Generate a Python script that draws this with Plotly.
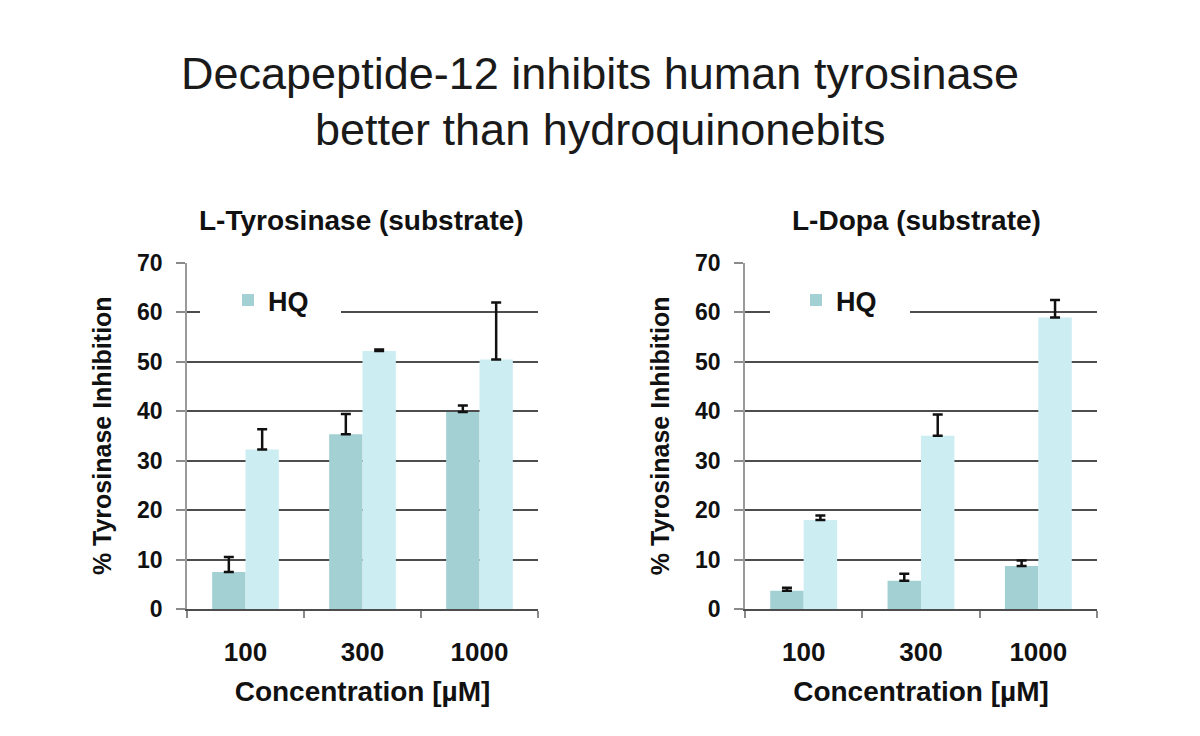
import plotly.graph_objects as go

categories = ["100", "300", "1000"]

# L-Tyrosinase (substrate)
tyr_hq = [7.5, 35.3, 39.8]
tyr_hq_err = [3.0, 4.1, 1.3]
tyr_deca = [32.2, 52.1, 50.4]
tyr_deca_err = [4.1, 0.3, 11.5]

# L-Dopa (substrate)
dopa_hq = [3.7, 5.7, 8.7]
dopa_hq_err = [0.6, 1.4, 1.1]
dopa_deca = [18.0, 35.0, 58.9]
dopa_deca_err = [0.9, 4.3, 3.5]

HQ_COLOR = "#A3D0D3"
DECA_COLOR = "#CCEEF2"
FONT = "Liberation Sans, Arial, sans-serif"
W, H = 1200, 736


def px_y(y):
    return 1 - y / H


fig = go.Figure()


def add_pair(hq, hq_err, deca, deca_err, xa, ya, legend):
    fig.add_trace(go.Bar(
        x=categories, y=hq, name="HQ", marker=dict(color=HQ_COLOR, line=dict(width=0)),
        error_y=dict(type="data", array=hq_err, arrayminus=[0] * len(hq_err), symmetric=False,
                     color="#111", thickness=2.5, width=5),
        xaxis=xa, yaxis=ya, legend=legend, showlegend=True))
    fig.add_trace(go.Bar(
        x=categories, y=deca, name="Decapeptide-12", marker=dict(color=DECA_COLOR, line=dict(width=0)),
        error_y=dict(type="data", array=deca_err, arrayminus=[0] * len(deca_err), symmetric=False,
                     color="#111", thickness=2.5, width=5),
        xaxis=xa, yaxis=ya, showlegend=False))


add_pair(tyr_hq, tyr_hq_err, tyr_deca, tyr_deca_err, "x", "y", "legend")
add_pair(dopa_hq, dopa_hq_err, dopa_deca, dopa_deca_err, "x2", "y2", "legend2")

ydom = [px_y(609), px_y(262.5)]

yaxis_common = dict(
    range=[0, 70], dtick=10, showgrid=True, gridcolor="#4d4d4d", gridwidth=2,
    showline=True, linecolor="#9a9a9a", linewidth=1.5, ticks="outside", ticklen=9,
    tickcolor="#8a8a8a", tickwidth=1.5, ticklabelstandoff=9,
    tickfont=dict(family=FONT, size=23, color="#111", weight="bold"),
    zeroline=False, domain=ydom, automargin=False,
    title=dict(text="% Tyrosinase Inhibition", font=dict(family=FONT, size=25, color="#111", weight="bold"),
               standoff=18),
)
xaxis_common = dict(
    showgrid=False, showline=True, linecolor="#4d4d4d", linewidth=2, ticks="outside",
    tickson="boundaries", ticklen=7, tickcolor="#8a8a8a", tickwidth=1.5, ticklabelstandoff=19,
    tickfont=dict(family=FONT, size=26, color="#111", weight="bold"), automargin=False,
    title=dict(text="Concentration [µM]", font=dict(family=FONT, size=28, color="#111", weight="bold"),
               standoff=15),
)

legend_font = dict(family=FONT, size=27, color="#111", weight="bold")

fig.update_layout(
    width=W, height=H,
    margin=dict(l=0, r=0, t=0, b=0, autoexpand=False),
    paper_bgcolor="white", plot_bgcolor="white",
    barmode="group", bargap=0.43, bargroupgap=0,
    xaxis=dict(domain=[187 / W, 538 / W], anchor="y", **xaxis_common),
    yaxis=dict(anchor="x", **yaxis_common),
    xaxis2=dict(domain=[745 / W, 1097 / W], anchor="y2", **xaxis_common),
    yaxis2=dict(anchor="x2", **yaxis_common),
    legend=dict(x=200 / W, y=px_y(276), xanchor="left", yanchor="top", orientation="h",
                bgcolor="white", entrywidth=68, indentation=28, font=legend_font),
    legend2=dict(x=770 / W, y=px_y(276), xanchor="left", yanchor="top", orientation="h",
                 bgcolor="white", entrywidth=69, indentation=26, font=legend_font),
    annotations=[
        dict(text="Decapeptide-12 inhibits human tyrosinase", x=0.5, y=px_y(73), xref="paper", yref="paper",
             xanchor="center", yanchor="middle", showarrow=False,
             font=dict(family=FONT, size=45, color="#1a1a1a")),
        dict(text="better than hydroquinonebits", x=0.5, y=px_y(129), xref="paper", yref="paper",
             xanchor="center", yanchor="middle", showarrow=False,
             font=dict(family=FONT, size=45, color="#1a1a1a")),
        dict(text="L-Tyrosinase (substrate)", x=361 / W, y=px_y(220), xref="paper", yref="paper",
             xanchor="center", yanchor="middle", showarrow=False,
             font=dict(family=FONT, size=28, color="#111", weight="bold")),
        dict(text="L-Dopa (substrate)", x=916 / W, y=px_y(220), xref="paper", yref="paper",
             xanchor="center", yanchor="middle", showarrow=False,
             font=dict(family=FONT, size=28, color="#111", weight="bold")),
    ],
)

fig.write_html("out.html")
